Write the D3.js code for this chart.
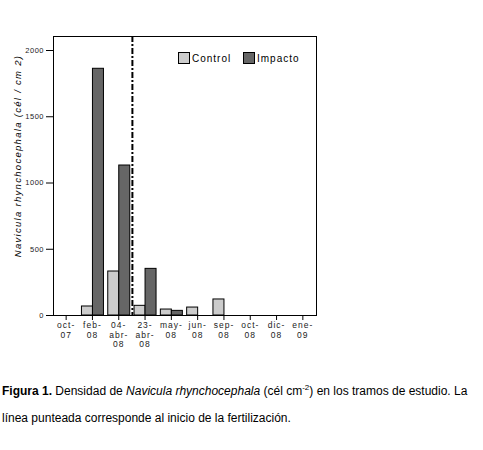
<!DOCTYPE html>
<html>
<head>
<meta charset="utf-8">
<script src="https://cdn.jsdelivr.net/npm/d3@7"></script>
<style>
  body { margin: 0; background: #fff; }
  svg { display: block; }
  text { font-family: "Liberation Sans", Arial, sans-serif; }
</style>
</head>
<body>
<svg id="chart" width="483" height="450"></svg>
<script>
//
// Data
//

var categories = ['oct-07', 'feb-08', '04-abr-08', '23-abr-08', 'may-08', 'jun-08', 'sep-08', 'oct-08', 'dic-08', 'ene-09']
var catLabels = [
  ['oct-', '07'], ['feb-', '08'], ['04-', 'abr-', '08'], ['23-', 'abr-', '08'], ['may-', '08'],
  ['jun-', '08'], ['sep-', '08'], ['oct-', '08'], ['dic-', '08'], ['ene-', '09']
]
var control = [0, 68, 332, 73, 45, 60, 121, 0, 0, 0]
var impacto = [0, 1862, 1132, 352, 35, 0, 0, 0, 0, 0]
var series = ['Control', 'Impacto']
var yTicks = [0, 500, 1000, 1500, 2000]
// fertilization starts between these two samplings
var fertAfter = '04-abr-08'

//
// Layout
//

var colorControl = '#cccccc'
var colorImpacto = '#666666'
var plotL = 53, plotR = 316, plotT = 36, plotB = 315

var svg = d3.select('#chart')

var x = d3.scaleBand()
  .domain(categories)
  .range([plotL, plotR])
  .padding(0)

var y = d3.scaleLinear()
  .domain([0, 2000])
  .range([plotB, plotB - 265])

var barW = 11

// y axis
var yAxis = svg.append('g')
  .attr('transform', 'translate(' + plotL + ',0)')
  .call(d3.axisLeft(y).tickValues(yTicks).tickSize(7).tickPadding(2).tickFormat(d3.format('d')))
yAxis.select('.domain').remove()
yAxis.selectAll('text')
  .attr('font-size', 7.5)
  .attr('letter-spacing', 0.5)
  .attr('fill', '#222')
  .attr('font-family', '"Liberation Sans", Arial, sans-serif')

// x axis
var xAxis = svg.append('g')
  .attr('transform', 'translate(0,' + plotB + ')')
  .call(d3.axisBottom(x).tickSize(5).tickFormat(''))
xAxis.select('.domain').remove()

var xl = svg.append('g')
categories.forEach(function(c, i) {
  var t = xl.append('text')
    .attr('x', x(c) + x.bandwidth() / 2)
    .attr('y', 328)
    .attr('text-anchor', 'middle')
    .attr('font-size', 8.5)
    .attr('letter-spacing', 1)
    .attr('fill', '#222')
  catLabels[i].forEach(function(s, j) {
    t.append('tspan')
      .attr('x', x(c) + x.bandwidth() / 2)
      .attr('dy', j === 0 ? 0 : 9.5)
      .text(s)
  })
})

// bars
var bars = svg.append('g')
bars.selectAll('.c')
  .data(categories)
  .enter()
  .append('rect')
  .attr('x', function(d) { return x(d) + x.bandwidth() / 2 - barW })
  .attr('y', function(d, i) { return y(control[i]) })
  .attr('width', barW)
  .attr('height', function(d, i) { return plotB - y(control[i]) })
  .attr('fill', colorControl)
  .attr('stroke', '#000')
  .attr('stroke-width', function(d, i) { return control[i] > 0 ? 1 : 0 })

bars.selectAll('.i')
  .data(categories)
  .enter()
  .append('rect')
  .attr('x', function(d) { return x(d) + x.bandwidth() / 2 })
  .attr('y', function(d, i) { return y(impacto[i]) })
  .attr('width', barW)
  .attr('height', function(d, i) { return plotB - y(impacto[i]) })
  .attr('fill', colorImpacto)
  .attr('stroke', '#000')
  .attr('stroke-width', function(d, i) { return impacto[i] > 0 ? 1 : 0 })

// frame
svg.append('rect')
  .attr('x', plotL + 0.5)
  .attr('y', plotT + 0.5)
  .attr('width', plotR - plotL)
  .attr('height', plotB - plotT)
  .attr('fill', 'none')
  .attr('stroke', '#000')
  .attr('stroke-width', 1)

// fertilization line
var fx = x(fertAfter) + x.bandwidth() + 0.5
svg.append('line')
  .attr('x1', fx).attr('x2', fx)
  .attr('y1', plotT).attr('y2', plotB)
  .attr('stroke', '#000')
  .attr('stroke-width', 2)
  .attr('stroke-dasharray', '6,2,2,2')

// legend
var legend = svg.append('g')
var legX = [178, 243]
var legColors = [colorControl, colorImpacto]
series.forEach(function(s, i) {
  legend.append('rect')
    .attr('x', legX[i] + 0.5)
    .attr('y', 52.5)
    .attr('width', 11)
    .attr('height', 11)
    .attr('fill', legColors[i])
    .attr('stroke', '#000')
  legend.append('text')
    .attr('x', legX[i] + 14)
    .attr('y', 62)
    .attr('font-size', 10)
    .attr('letter-spacing', 1)
    .text(s)
})

// y label
svg.append('text')
  .attr('transform', 'translate(21,156) rotate(-90)')
  .attr('text-anchor', 'middle')
  .attr('font-size', 9.5)
  .attr('font-style', 'italic')
  .attr('letter-spacing', 1.3)
  .text('Navicula rhynchocephala (cél / cm 2)')

// caption
var cap = svg.append('text')
  .attr('x', 2)
  .attr('y', 395)
  .attr('font-size', 12)
cap.append('tspan').attr('font-weight', 'bold').text('Figura 1.')
cap.append('tspan').text(' Densidad de ')
cap.append('tspan').attr('font-style', 'italic').text('Navicula rhynchocephala')
cap.append('tspan').text(' (cél cm')
cap.append('tspan').attr('font-size', 8).attr('dy', -5).text('-2')
cap.append('tspan').attr('dy', 5).text(') en los tramos de estudio. La')

svg.append('text')
  .attr('x', 2)
  .attr('y', 422)
  .attr('font-size', 12)
  .text('línea punteada corresponde al inicio de la fertilización.')
</script>
</body>
</html>
